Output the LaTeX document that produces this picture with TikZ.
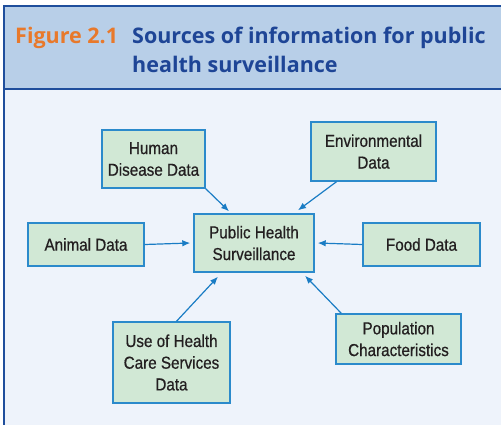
\documentclass[tikz,border=0pt]{standalone}
\usepackage{fontspec}
\setmainfont{Liberation Sans}[FakeStretch=0.88,FakeBold=0.6]
\newfontfamily\titlefont{Open Sans}
\usetikzlibrary{arrows.meta}
\definecolor{headfill}{HTML}{B8CFE8}
\definecolor{bodyfill}{HTML}{EEF3FB}
\definecolor{framecol}{HTML}{1F4E9C}
\definecolor{boxfill}{HTML}{D1E8D5}
\definecolor{boxline}{HTML}{2B8ACB}
\definecolor{arrcol}{HTML}{1A7CC4}
\definecolor{figorange}{HTML}{E8792B}
\definecolor{titleblue}{HTML}{1E4596}
\definecolor{txt}{HTML}{231F20}
\tikzset{src/.style={draw=boxline,line width=1.4pt,fill=boxfill,text=txt,align=center,
  font=\fontsize{17.3}{21.7}\selectfont,inner sep=0pt},
  feed/.style={draw=arrcol,line width=1.2pt,-{Latex[length=8pt,width=6.5pt]}},
  headtext/.style={anchor=base west,inner sep=0pt,font=\titlefont\bfseries\fontsize{21.5}{29}\selectfont}}

\begin{document}
\begin{tikzpicture}[x=1pt,y=-1pt]
\useasboundingbox(0,0)rectangle(501,424);
\fill[bodyfill](4,89)rectangle(506,430);
\fill[headfill](4,6)rectangle(506,89);
\draw[framecol,line width=1.5pt](4,430)--(4,6)--(506,6)(4,89)--(506,89);
\node[headtext,text=figorange](fig)at(15,43){Figure 2.1};
\node[headtext,align=left,text=titleblue](title)at(132,72){Sources of information for public\\health surveillance};

\node[src,minimum width=120pt,minimum height=58pt](phs)at(254,243){Public Health\\Surveillance};
\node[src,minimum width=103pt,minimum height=58pt](human)at(153.5,159){Human\\Disease Data};
\node[src,minimum width=125pt,minimum height=59pt](env)at(373.5,151.5){Environmental\\Data};
\node[src,minimum width=116pt,minimum height=43pt](animal)at(86,244.5){Animal Data};
\node[src,minimum width=117pt,minimum height=43pt](food)at(421.5,244.5){Food Data};
\node[src,minimum width=117pt,minimum height=81pt](use)at(171.5,362.5){Use of Health\\Care Services\\Data};
\node[src,minimum width=125pt,minimum height=50pt](pop)at(398.5,339){Population\\Characteristics};

\draw[feed](human.south east)--([xshift=-25pt,yshift=2pt]phs.north);
\draw[feed]([xshift=-37pt]env.south)--([xshift=44pt,yshift=3pt]phs.north);
\draw[feed](animal.east)--([xshift=-3pt]phs.west);
\draw[feed](food.west)--([xshift=3pt]phs.east);
\draw[feed]([xshift=5pt]use.north)--([xshift=-36pt,yshift=-4pt]phs.south);
\draw[feed]([xshift=6pt]pop.north west)--([xshift=51pt,yshift=-3pt]phs.south);
\end{tikzpicture}
\end{document}
